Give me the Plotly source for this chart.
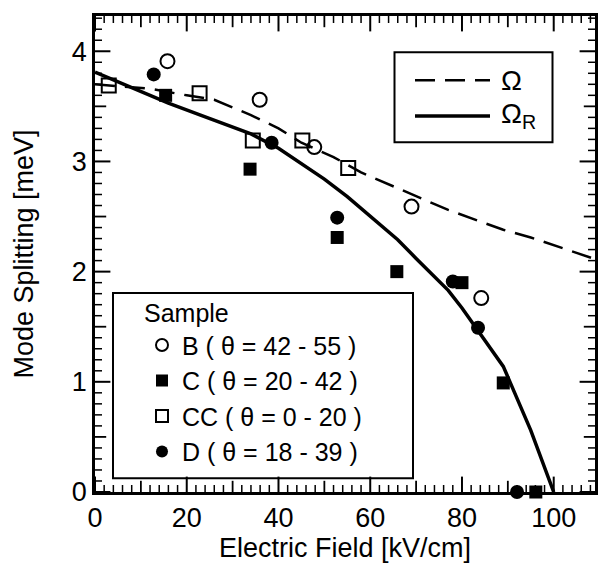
import plotly.graph_objects as go

# ---- data ----
B_x = [15.8, 35.9, 47.8, 69.0, 84.2]
B_y = [3.91, 3.56, 3.13, 2.59, 1.76]
C_x = [15.4, 33.8, 52.8, 65.8, 80.0, 89.0, 96.1]
C_y = [3.60, 2.93, 2.31, 2.00, 1.90, 0.99, 0.0]
CC_x = [3.0, 22.8, 34.4, 45.2, 55.2]
CC_y = [3.69, 3.62, 3.19, 3.19, 2.94]
D_x = [12.8, 38.5, 52.8, 78.0, 83.5, 92.0]
D_y = [3.79, 3.17, 2.49, 1.91, 1.49, 0.0]

omega_x = [0, 12, 20, 26, 34, 40, 45, 52, 58, 68, 77, 89, 95, 110]
omega_y = [3.70, 3.66, 3.60, 3.56, 3.42, 3.30, 3.17, 3.04, 2.90, 2.72, 2.56, 2.38, 2.31, 2.10]
omegaR_x = [0, 8, 16, 23, 34, 40, 45, 50, 55, 60, 66, 70, 77, 80, 89, 95, 100]
omegaR_y = [3.81, 3.67, 3.53, 3.42, 3.25, 3.12, 2.98, 2.84, 2.68, 2.50, 2.29, 2.12, 1.83, 1.67, 1.14, 0.56, 0.0]

x_ticks = [0, 20, 40, 60, 80, 100]
y_ticks = [0, 1, 2, 3, 4]
X_RANGE = [0, 109]
Y_RANGE = [0, 4.32]

FONT = "Liberation Sans, Arial, sans-serif"

fig = go.Figure()

# ---- inward tick marks on all four edges (half of each marker is clipped by the axes) ----
x_step = x_ticks[1] - x_ticks[0]
y_step = y_ticks[1] - y_ticks[0]
groups = {11: ([], []), 8: ([], []), 5: ([], [])}
for i in range(0, int(X_RANGE[1] // 2) + 1):
    v = 2 * i
    L = 11 if v % x_step == 0 else (8 if v % (x_step // 2) == 0 else 5)
    groups[L][0].append(v)
ygroups = {11: [], 8: [], 5: []}
for i in range(0, int(round(Y_RANGE[1] * 10)) + 1):
    L = 11 if i % (y_step * 10) == 0 else (8 if i % 5 == 0 else 5)
    ygroups[L].append(i / 10)
widths = {11: 2, 8: 1.8, 5: 1.5}
for L in (11, 8, 5):
    xs = groups[L][0]
    fig.add_trace(go.Scatter(
        x=xs + xs, y=[Y_RANGE[0]] * len(xs) + [Y_RANGE[1]] * len(xs), mode="markers",
        marker=dict(symbol="line-ns", size=2 * L, line=dict(color="black", width=widths[L])),
        showlegend=False, hoverinfo="skip", cliponaxis=True))
    ys = ygroups[L]
    fig.add_trace(go.Scatter(
        x=[X_RANGE[0]] * len(ys) + [X_RANGE[1]] * len(ys), y=ys + ys, mode="markers",
        marker=dict(symbol="line-ew", size=2 * L, line=dict(color="black", width=widths[L])),
        showlegend=False, hoverinfo="skip", cliponaxis=True))

fig.add_trace(go.Scatter(x=omega_x, y=omega_y, mode="lines", name="Ω",
                         line=dict(color="black", width=2.5, dash="20px,10px"),
                         showlegend=False))
fig.add_trace(go.Scatter(x=omegaR_x, y=omegaR_y, mode="lines", name="Ω<sub>R</sub>",
                         line=dict(color="black", width=3.5),
                         showlegend=False))

fig.add_trace(go.Scatter(x=B_x, y=B_y, mode="markers", name="B ( θ = 42 - 55 )",
                         marker=dict(symbol="circle-open", size=14, color="black", line=dict(width=2)),
                         cliponaxis=False))
fig.add_trace(go.Scatter(x=C_x, y=C_y, mode="markers", name="C ( θ = 20 - 42 )",
                         marker=dict(symbol="square", size=13, color="black"),
                         cliponaxis=False))
fig.add_trace(go.Scatter(x=CC_x, y=CC_y, mode="markers", name="CC ( θ = 0 - 20 )",
                         marker=dict(symbol="square-open", size=14, color="black", line=dict(width=2)),
                         cliponaxis=False))
fig.add_trace(go.Scatter(x=D_x, y=D_y, mode="markers", name="D ( θ = 18 - 39 )",
                         marker=dict(symbol="circle", size=14, color="black"),
                         cliponaxis=False))

shapes = [
    dict(type="rect", xref="paper", yref="paper", x0=0.599, x1=0.915, y0=0.735, y1=0.924,
         line=dict(color="black", width=2), fillcolor="white", layer="above"),
    dict(type="line", xref="paper", yref="paper", x0=0.640, x1=0.790, y0=0.865, y1=0.865,
         line=dict(color="black", width=2.5, dash="20px,10px"), layer="above"),
    dict(type="line", xref="paper", yref="paper", x0=0.640, x1=0.790, y0=0.790, y1=0.790,
         line=dict(color="black", width=3.5), layer="above"),
    dict(type="rect", xref="paper", yref="paper", x0=0.036, x1=0.636, y0=0.029, y1=0.418,
         line=dict(color="black", width=2), fillcolor="white", layer="below"),
]
annotations = [
    dict(text="Ω", xref="paper", yref="paper", x=0.808, y=0.865, xanchor="left", yanchor="middle",
         showarrow=False, font=dict(family=FONT, size=28)),
    dict(text="Ω<sub>R</sub>", xref="paper", yref="paper", x=0.808, y=0.790, xanchor="left", yanchor="middle",
         showarrow=False, font=dict(family=FONT, size=28)),
]

fig.update_layout(
    width=601, height=563,
    margin=dict(l=95, r=3, t=16, b=71),
    paper_bgcolor="white", plot_bgcolor="white",
    font=dict(family=FONT, size=25, color="black"),
    showlegend=True,
    shapes=shapes, annotations=annotations,
    xaxis=dict(range=X_RANGE, tick0=0, dtick=x_step,
               showline=True, linecolor="black", linewidth=2.5, mirror=True,
               ticks="", showgrid=False, zeroline=False,
               tickfont=dict(family=FONT, size=27, color="black"),
               title=dict(text="Electric Field [kV/cm]", font=dict(family=FONT, size=27), standoff=8)),
    yaxis=dict(range=Y_RANGE, tick0=0, dtick=y_step,
               showline=True, linecolor="black", linewidth=2.5, mirror=True,
               ticks="", showgrid=False, zeroline=False,
               tickfont=dict(family=FONT, size=27, color="black"),
               title=dict(text="Mode Splitting [meV]", font=dict(family=FONT, size=27), standoff=31)),
    legend=dict(x=0.094, y=0.425, xanchor="left", yanchor="top",
                bgcolor="rgba(0,0,0,0)", borderwidth=0,
                title=dict(text="Sample", font=dict(family=FONT, size=25)),
                font=dict(family=FONT, size=25), itemsizing="constant",
                tracegroupgap=0),
)

fig.write_html("out.html")
